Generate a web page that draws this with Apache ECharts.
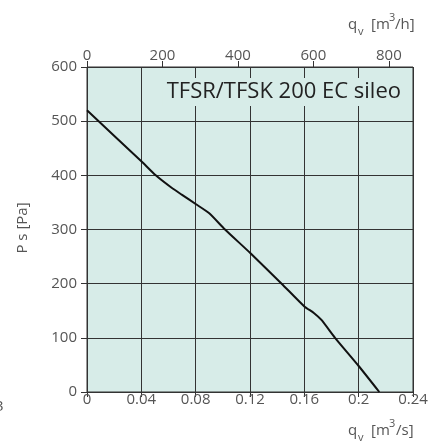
<!DOCTYPE html>
<html><head><meta charset="utf-8">
<script src="https://cdn.jsdelivr.net/npm/echarts@6/dist/echarts.min.js"></script>
<style>html,body{margin:0;padding:0;background:#fff}#c{width:442px;height:445px}</style>
</head><body><div id="c"></div>
<script>
// Flow (m3/s) vs static pressure (Pa)
const flowM3s = [0, 0.04, 0.0506, 0.0623, 0.07, 0.08, 0.09, 0.1016, 0.12, 0.1433, 0.16, 0.167, 0.1726, 0.1826, 0.2, 0.2152];
const pressurePa = [520, 426, 400, 377, 364, 347, 330, 300, 257, 200, 158, 146, 133, 100, 48, 0];
const bottomTicks = [0, 0.04, 0.08, 0.12, 0.16, 0.2, 0.24];
const topTicks = [0, 200, 400, 600, 800];
const leftTicks = [0, 100, 200, 300, 400, 500, 600];
const titleText = 'TFSR/TFSK 200 EC sileo';

const FONT = '"Open Sans", "Noto Sans", sans-serif';
const LBL = '#555';
const GRID = '#333';
const chart = echarts.init(document.getElementById('c'), null, {renderer: 'canvas'});
const data = flowM3s.map((q, i) => [q, pressurePa[i]]);
const txt = (t, x, y, size, align) => ({type: 'text', x: x, y: y, style: {text: t, font: size + 'px ' + FONT, fill: LBL, align: align || 'left', verticalAlign: 'middle'}});
chart.setOption({
  animation: false,
  title: {text: titleText, right: 37, top: 78, padding: [3, 4, 3, 4], backgroundColor: '#d7ece8',
    textStyle: {fontFamily: FONT, fontSize: 22, fontWeight: 'normal', color: '#222'}},
  grid: {left: 87, right: 29, top: 67, bottom: 53, show: true, backgroundColor: '#d7ece8', borderColor: GRID, borderWidth: 1},
  xAxis: [{
    type: 'value', position: 'bottom', min: bottomTicks[0], max: bottomTicks[bottomTicks.length - 1], interval: 0.04,
    axisLine: {lineStyle: {color: GRID, width: 1}},
    axisTick: {show: true, length: 5, lineStyle: {color: GRID}},
    axisLabel: {color: LBL, fontFamily: FONT, fontSize: 15, margin: 0, formatter: v => String(+v.toFixed(2))},
    splitLine: {show: true, lineStyle: {color: GRID, width: 1}}
  }, {
    type: 'value', position: 'top', min: 0, max: 864, interval: 200,
    axisLine: {show: true, lineStyle: {color: GRID, width: 1}},
    axisTick: {show: true, length: 6, customValues: topTicks, lineStyle: {color: GRID}},
    axisLabel: {color: LBL, fontFamily: FONT, fontSize: 15, margin: 4, customValues: topTicks},
    splitLine: {show: false}
  }],
  yAxis: {
    type: 'value', min: leftTicks[0], max: leftTicks[leftTicks.length - 1], interval: 100,
    axisLine: {show: true, lineStyle: {color: GRID, width: 1}},
    axisTick: {show: true, length: 6, lineStyle: {color: GRID}},
    axisLabel: {color: LBL, fontFamily: FONT, fontSize: 15, margin: 10},
    splitLine: {show: true, lineStyle: {color: GRID, width: 1}}
  },
  series: [{type: 'line', xAxisIndex: 0, data: data, smooth: 0.2, showSymbol: false,
    lineStyle: {color: '#111', width: 2}}],
  graphic: [
    txt('q', 348, 25, 15), txt('v', 358, 32, 11), txt('[m', 371, 25, 15), txt('3', 389, 18, 11), txt('/h]', 395, 25, 15),
    txt('q', 348, 431, 15), txt('v', 358, 438, 11), txt('[m', 371, 431, 15), txt('3', 389, 424, 11), txt('/s]', 396, 431, 15),
    {type: 'text', x: 23, y: 228, rotation: Math.PI / 2, style: {text: 'P s [Pa]', font: '15px ' + FONT, fill: LBL, align: 'center', verticalAlign: 'middle'}},
    txt('3', -5, 407, 15)
  ]
});
</script></body></html>
